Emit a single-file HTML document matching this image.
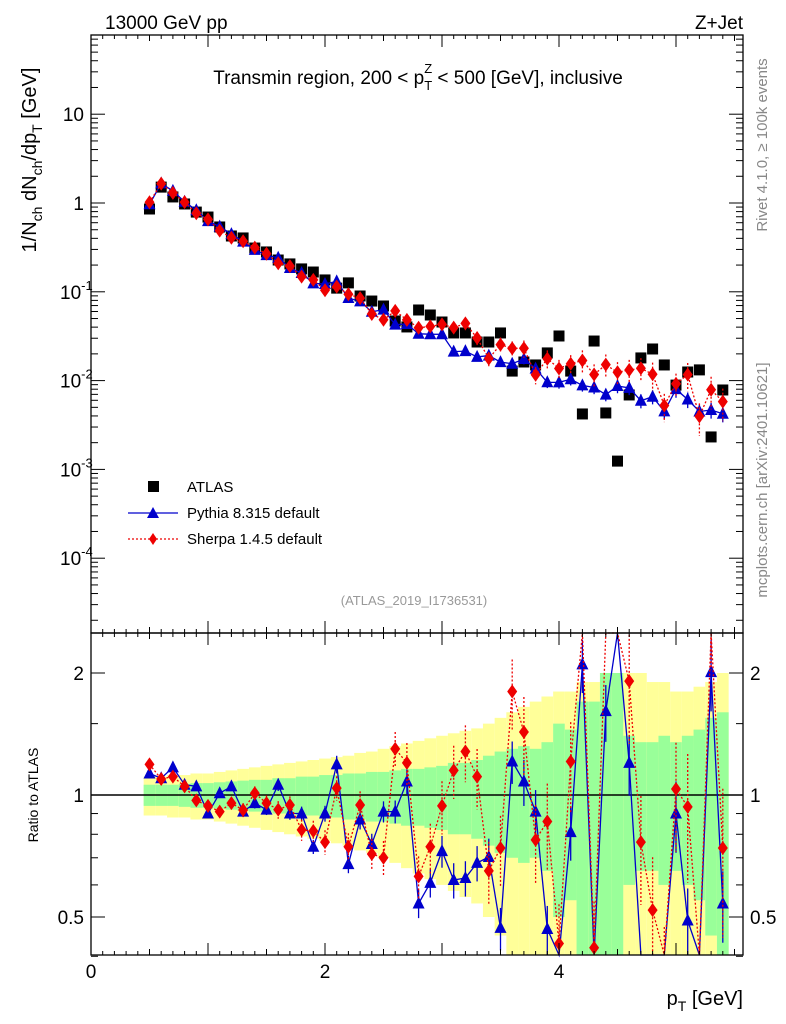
<!DOCTYPE html>
<html><head><meta charset="utf-8"><style>
body{margin:0;background:#fff}
svg{display:block;font-family:"Liberation Sans",sans-serif}
</style></head><body>
<svg id="c" width="786" height="1024" viewBox="0 0 786 1024" xmlns="http://www.w3.org/2000/svg">
<rect x="0" y="0" width="786" height="1024" fill="#fff"/>
<g id="bands"></g><g id="ratioMarks"></g><g id="mainMarks"></g><g id="axes"></g>
<text x="105" y="29" font-size="19">13000 GeV pp</text>
<text x="743" y="29" font-size="19" text-anchor="end">Z+Jet</text>
<text x="418" y="84" font-size="19" text-anchor="middle">Transmin region, 200 &lt; p<tspan font-size="13" dy="6">T</tspan><tspan font-size="13" dx="-8" dy="-17">Z</tspan><tspan dy="11"> &lt; 500 [GeV], inclusive</tspan></text>
<text transform="translate(36,160) rotate(-90)" font-size="20" text-anchor="middle">1/N<tspan font-size="14" dy="6">ch</tspan><tspan dy="-6"> dN</tspan><tspan font-size="14" dy="6">ch</tspan><tspan dy="-6">/dp</tspan><tspan font-size="14" dy="6">T</tspan><tspan dy="-6"> [GeV]</tspan></text>
<text transform="translate(38,795) rotate(-90)" font-size="14" text-anchor="middle">Ratio to ATLAS</text>
<text transform="translate(767,145) rotate(-90)" font-size="15" fill="#888" text-anchor="middle">Rivet 4.1.0, ≥ 100k events</text>
<text transform="translate(767,480) rotate(-90)" font-size="15" fill="#888" text-anchor="middle">mcplots.cern.ch [arXiv:2401.10621]</text>
<text x="414" y="605" font-size="13" fill="#999" text-anchor="middle">(ATLAS_2019_I1736531)</text>
<text x="743" y="1005" font-size="20" text-anchor="end">p<tspan font-size="14" dy="6">T</tspan><tspan dy="-6"> [GeV]</tspan></text>
<g>
<rect x="148" y="481" width="11" height="11" fill="#000"/>
<text x="187" y="492" font-size="15">ATLAS</text>
<line x1="128" y1="513" x2="178" y2="513" stroke="#00c" stroke-width="1.3"/>
<polygon points="153,507 159,518 147,518" fill="#00c"/>
<text x="187" y="518" font-size="15">Pythia 8.315 default</text>
<line x1="128" y1="539" x2="178" y2="539" stroke="#e00" stroke-width="1.3" stroke-dasharray="2,2"/>
<polygon points="153,533 157,539 153,545 149,539" fill="#e00"/>
<text x="187" y="544" font-size="15">Sherpa 1.4.5 default</text>
</g>
</svg>
<script>
const xCenters=[0.5,0.6,0.7,0.8,0.9,1.0,1.1,1.2,1.3,1.4,1.5,1.6,1.7,1.8,1.9,2.0,2.1,2.2,2.3,2.4,2.5,2.6,2.7,2.8,2.9,3.0,3.1,3.2,3.3,3.4,3.5,3.6,3.7,3.8,3.9,4.0,4.1,4.2,4.3,4.4,4.5,4.6,4.7,4.8,4.9,5.0,5.1,5.2,5.3,5.4];
const atlas=[0.856,1.51,1.17,0.975,0.79,0.695,0.537,0.425,0.404,0.311,0.281,0.228,0.206,0.181,0.167,0.136,0.110,0.126,0.0897,0.0787,0.0692,0.0469,0.0402,0.0624,0.0548,0.0457,0.0344,0.0344,0.0272,0.0272,0.0344,0.0128,0.0162,0.0150,0.0205,0.0318,0.0128,0.00421,0.0279,0.00432,0.00124,0.00689,0.0180,0.0227,0.0150,0.0089,0.0125,0.0132,0.00232,0.00784];
const pythiaRatio=[1.13,1.10,1.17,1.06,1.05,0.90,1.01,1.05,0.91,0.955,0.92,1.06,0.90,0.90,0.745,0.90,1.19,0.675,0.87,0.757,0.91,0.91,1.08,0.54,0.607,0.727,0.617,0.624,0.68,0.703,0.47,1.21,1.08,0.91,0.467,0.30,0.81,2.1,0.30,1.61,7.0,1.20,0.33,0.29,0.30,0.90,0.49,0.34,2.01,0.54];
const sherpaRatio=[1.19,1.095,1.11,1.05,0.97,0.94,0.91,0.955,0.918,1.01,0.955,0.92,0.945,0.82,0.815,0.765,1.04,0.745,0.945,0.715,0.70,1.30,1.20,0.63,0.745,0.94,1.15,1.28,1.11,0.65,0.74,1.80,1.43,0.775,0.86,0.43,1.21,4.0,0.42,3.5,10,1.91,0.765,0.52,0.35,1.035,0.935,0.30,3.4,0.74];
const pythiaErr=[0.02,0.02,0.02,0.02,0.02,0.02,0.025,0.025,0.03,0.03,0.03,0.035,0.035,0.04,0.04,0.045,0.05,0.05,0.055,0.06,0.06,0.065,0.07,0.08,0.08,0.09,0.1,0.1,0.1,0.11,0.12,0.12,0.13,0.13,0.14,0.15,0.15,0.15,0.16,0.16,0.17,0.17,0.18,0.18,0.19,0.2,0.2,0.2,0.2,0.2];
const sherpaErr=[0.03,0.03,0.03,0.03,0.03,0.03,0.035,0.035,0.04,0.04,0.045,0.05,0.05,0.06,0.06,0.07,0.07,0.08,0.08,0.09,0.1,0.1,0.12,0.12,0.14,0.15,0.15,0.16,0.17,0.18,0.2,0.2,0.22,0.22,0.24,0.25,0.25,0.3,0.3,0.3,0.3,0.3,0.3,0.35,0.35,0.3,0.35,0.4,0.4,0.4];
const greenUnc=[0.06,0.06,0.06,0.065,0.07,0.07,0.075,0.08,0.085,0.09,0.09,0.1,0.1,0.11,0.11,0.12,0.12,0.13,0.13,0.14,0.14,0.15,0.16,0.16,0.17,0.18,0.2,0.2,0.22,0.25,0.28,0.3,0.32,0.3,0.35,0.5,0.45,0.7,0.7,1,1,0.4,0.35,0.35,0.4,0.35,0.4,0.45,0.55,0.6];
const yellowUnc=[0.11,0.11,0.12,0.12,0.13,0.13,0.14,0.15,0.16,0.17,0.18,0.19,0.2,0.21,0.22,0.23,0.24,0.25,0.27,0.28,0.3,0.32,0.34,0.36,0.38,0.4,0.42,0.44,0.46,0.5,0.55,0.6,0.65,0.7,0.75,0.8,0.8,0.9,0.9,1,1,1,1,0.9,0.9,0.8,0.8,0.85,0.9,1];
const yTickLabels=["10","1","10","10","10","10"];
const ratioTicks=[0.5,1,2];
const xTicks=[0,2,4];

const NS="http://www.w3.org/2000/svg";
const X0=91,X1=743,MT=35,MB=633,RB=955;
const sx=v=>X0+117*v;
const syMain=v=>203-88.8*Math.log10(v);
const syRatio=r=>795-122*Math.log2(r);
const clampM=y=>Math.max(MT,Math.min(MB,y));
const clampR=y=>Math.max(MB,Math.min(RB,y));
function mk(parent,tag,attrs){const e=document.createElementNS(NS,tag);for(const k in attrs)e.setAttribute(k,attrs[k]);document.getElementById(parent).appendChild(e);return e;}

xCenters.forEach((x,i)=>{
  const xl=sx(x-0.05),w=117*0.1;
  const yT=clampR(syRatio(1+yellowUnc[i])),yB=clampR(syRatio(Math.max(1-yellowUnc[i],0.01)));
  let e=mk('bands','rect',{x:xl,y:yT,width:w,height:yB-yT,fill:'#ffff99'});
  
  
  const gT=clampR(syRatio(1+greenUnc[i])),gB=clampR(syRatio(Math.max(1-greenUnc[i],0.01)));
  e=mk('bands','rect',{x:xl,y:gT,width:w,height:gB-gT,fill:'#99ff99'});
  
  
});
let ln=mk('bands','line',{x1:X0,x2:X1,y1:795,y2:795,stroke:'#000','stroke-width':1.5});



function drawSeries(g,vals,errs,sy,clamp,color,dash,kind,name){
  const pts=xCenters.map((x,i)=>[sx(x),sy(vals[i])]);
  const d=pts.map((p,i)=>(i?'L':'M')+p[0].toFixed(1)+','+clamp(p[1]).toFixed(1)).join(' ');
  let p=mk(g,'path',{d:d,fill:'none',stroke:color,'stroke-width':1.3,'stroke-dasharray':dash});
  
  
  const top=clamp===clampM?MT:MB, bot=clamp===clampM?MB:RB;
  pts.forEach((q,i)=>{
    const yu=clamp(sy(vals[i]*(1+errs[i]))),yd=clamp(sy(vals[i]*(1-errs[i])));
    let e=mk(g,'line',{x1:q[0],x2:q[0],y1:yu,y2:yd,stroke:color,'stroke-width':1.3,'stroke-dasharray':dash});
    
    
    if(q[1]<top-2||q[1]>bot+2)return;
    if(kind==='tri'){
      e=mk(g,'polygon',{points:`${q[0]},${q[1]-7} ${q[0]+6},${q[1]+5} ${q[0]-6},${q[1]+5}`,fill:color});
    }else{
      e=mk(g,'polygon',{points:`${q[0]},${q[1]-7} ${q[0]+5},${q[1]} ${q[0]},${q[1]+7} ${q[0]-5},${q[1]}`,fill:color});
    }
    
    
  });
}
drawSeries('ratioMarks',pythiaRatio,pythiaErr,syRatio,clampR,'#00c','none','tri','pythia-ratio');
drawSeries('ratioMarks',sherpaRatio,sherpaErr,syRatio,clampR,'#e00','2,2','dia','sherpa-ratio');
atlas.forEach((v,i)=>{
  const e=mk('mainMarks','rect',{x:sx(xCenters[i])-5.5,y:syMain(v)-5.5,width:11,height:11,fill:'#000'});
  
  
});
drawSeries('mainMarks',atlas.map((a,i)=>a*pythiaRatio[i]),pythiaErr,syMain,clampM,'#00c','none','tri','pythia');
drawSeries('mainMarks',atlas.map((a,i)=>a*sherpaRatio[i]),sherpaErr,syMain,clampM,'#e00','2,2','dia','sherpa');

[[MT,MB],[MB,RB]].forEach(([t,b],k)=>{
  const e=mk('axes','rect',{x:X0,y:t,width:X1-X0,height:b-t,fill:'none',stroke:'#000','stroke-width':1.3});
  
  
});
function tick(x1,y1,x2,y2){mk('axes','line',{x1:x1,y1:y1,x2:x2,y2:y2,stroke:'#000','stroke-width':1});}
for(let v=0;v<=5.5;v+=0.5){
  const major=Math.abs(v-Math.round(v))<1e-6, len=major?12:6, x=sx(v);
  [[MT,1],[MB,-1],[MB,1],[RB,-1]].forEach(([y,s])=>tick(x,y,x,y+s*len));
}
for(let v=0.1;v<=5.55;v+=0.1){const x=sx(v);[[MT,1],[MB,-1],[MB,1],[RB,-1]].forEach(([y,s])=>tick(x,y,x,y+s*4));}
xTicks.forEach(v=>{
  const t=mk('axes','text',{x:sx(v),y:978,'font-size':19,'text-anchor':'middle'});t.textContent=v;
  
  
});
for(let p=-5;p<=2;p++){
  for(let m=1;m<10;m++){
    const y=syMain(m*Math.pow(10,p)); if(y<MT||y>MB)continue;
    const len=m===1?14:7; tick(X0,y,X0+len,y); tick(X1,y,X1-len,y);
  }
}
const decs=[1,0,-1,-2,-3,-4];
decs.forEach((p,i)=>{
  const y=syMain(Math.pow(10,p));
  const t=mk('axes','text',{x:84,y:y+7,'font-size':19,'text-anchor':'end'});
  t.textContent=yTickLabels[i];
  if(p<0){const s=document.createElementNS(NS,'tspan');s.setAttribute('font-size','13');s.setAttribute('dy','-9');s.textContent=String(p);t.appendChild(s);t.setAttribute('x',60);t.setAttribute('text-anchor','start');}
  
  
});
[0.4,0.5,0.6,0.7,0.8,0.9,1,1.5,2].forEach(r=>{const y=syRatio(r);const len=(r===0.5||r===1||r===2)?14:7;tick(X0,y,X0+len,y);tick(X1,y,X1-len,y);});
ratioTicks.forEach(r=>{
  const y=syRatio(r);
  let t=mk('axes','text',{x:84,y:y+7,'font-size':19,'text-anchor':'end'});t.textContent=r;
  
  
  t=mk('axes','text',{x:750,y:y+7,'font-size':19});t.textContent=r;
  
  
});
</script>
</body></html>
